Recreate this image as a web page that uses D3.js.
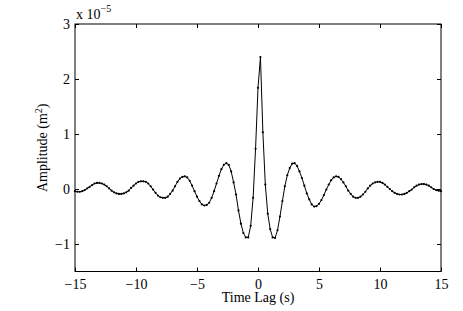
<!DOCTYPE html>
<html>
<head>
<meta charset="utf-8">
<script src="https://cdn.jsdelivr.net/npm/d3@7"></script>
<style>
  body { margin: 0; background: #fff; }
  svg text { font-family: "Liberation Serif", "Times New Roman", serif; fill: #000; }
</style>
</head>
<body>
<svg id="chart" width="463" height="311"></svg>
<script>
// Lag times (s), sampled every 0.2 s
const lags = d3.range(-15, 15.0001, 0.2).map((t) => +t.toFixed(1));

// Amplitude in units of 1e-5 m^2
const amplitude = [
  -0.04, -0.05, -0.05, -0.04, -0.02, 0.01, 0.04, 0.07, 0.10, 0.11,
  0.11, 0.10, 0.08, 0.05, 0.01, -0.03, -0.06, -0.08, -0.09, -0.09,
  -0.08, -0.06, -0.03, 0.02, 0.06, 0.10, 0.13, 0.14, 0.14, 0.13,
  0.10, 0.05, -0.01, -0.07, -0.12, -0.15, -0.16, -0.16, -0.14, -0.09,
  -0.03, 0.05, 0.13, 0.19, 0.22, 0.23, 0.21, 0.15, 0.06, -0.04,
  -0.14, -0.22, -0.28, -0.30, -0.29, -0.25, -0.16, -0.04, 0.10, 0.24,
  0.36, 0.44, 0.47, 0.44, 0.32, 0.12, -0.10, -0.39, -0.63, -0.80,
  -0.88, -0.88, -0.67, -0.16, 0.73, 1.84, 2.40, 1.03, 0.08, -0.45,
  -0.73, -0.88, -0.89, -0.75, -0.50, -0.22, 0.05, 0.25, 0.38, 0.46,
  0.47, 0.42, 0.32, 0.20, 0.06, -0.08, -0.19, -0.28, -0.32, -0.31,
  -0.27, -0.20, -0.11, -0.01, 0.08, 0.16, 0.21, 0.23, 0.22, 0.18,
  0.12, 0.05, -0.03, -0.09, -0.14, -0.16, -0.16, -0.14, -0.10, -0.05,
  0.01, 0.06, 0.10, 0.12, 0.13, 0.13, 0.11, 0.08, 0.04, 0.00,
  -0.04, -0.07, -0.09, -0.10, -0.10, -0.09, -0.07, -0.04, -0.01, 0.03,
  0.06, 0.08, 0.09, 0.09, 0.08, 0.06, 0.03, 0.00, -0.02, -0.03,
  -0.04
];

const xTicks = [-15, -10, -5, 0, 5, 10, 15];
const yTicks = [-1, 0, 1, 2, 3];

const data = lags.map((t, i) => ({ t: t, v: amplitude[i] }));

const svg = d3.select("#chart");
const plotLeft = 75, plotRight = 441, plotTop = 24, plotBottom = 271.5;

const x = d3.scaleLinear().domain([-15, 15]).range([plotLeft, plotRight]);
const y = d3.scaleLinear().domain([-1.5, 3]).range([plotBottom, plotTop]);

const fmt = (d) => (d < 0 ? "\u2212" + Math.abs(d) : String(d));

// Axes with inward ticks on all four sides
const gx = svg.append("g")
  .attr("transform", `translate(0,${plotBottom})`)
  .call(d3.axisBottom(x).tickValues(xTicks).tickSizeInner(-4).tickSizeOuter(0).tickPadding(8).tickFormat(fmt));
const gxTop = svg.append("g")
  .attr("transform", `translate(0,${plotTop})`)
  .call(d3.axisTop(x).tickValues(xTicks).tickSizeInner(-4).tickSizeOuter(0).tickFormat(""));
const gy = svg.append("g")
  .attr("transform", `translate(${plotLeft},0)`)
  .call(d3.axisLeft(y).tickValues(yTicks).tickSizeInner(-4).tickSizeOuter(0).tickPadding(5).tickFormat(fmt));
const gyRight = svg.append("g")
  .attr("transform", `translate(${plotRight},0)`)
  .call(d3.axisRight(y).tickValues(yTicks).tickSizeInner(-4).tickSizeOuter(0).tickFormat(""));

[gx, gxTop, gy, gyRight].forEach((g) => {
  g.select(".domain").remove();
  g.selectAll("line").attr("stroke", "#000");
  g.selectAll("text")
    .style("font-family", '"Liberation Serif", "Times New Roman", serif')
    .style("font-size", "14px")
    .attr("fill", "#000");
});

// Box
svg.append("rect")
  .attr("x", plotLeft)
  .attr("y", plotTop)
  .attr("width", plotRight - plotLeft)
  .attr("height", plotBottom - plotTop)
  .attr("fill", "none")
  .attr("stroke", "#000")
  .attr("stroke-width", 1);

// Series line + dot markers
const line = d3.line().x((d) => x(d.t)).y((d) => y(d.v));
svg.append("path")
  .datum(data)
  .attr("fill", "none")
  .attr("stroke", "#000")
  .attr("stroke-width", 1)
  .attr("d", line);

svg.append("g")
  .selectAll("circle")
  .data(data)
  .join("circle")
  .attr("cx", (d) => x(d.t))
  .attr("cy", (d) => y(d.v))
  .attr("r", 1.1)
  .attr("fill", "#000");

// Exponent note
const expo = svg.append("text")
  .attr("x", plotLeft + 1)
  .attr("y", 19)
  .style("font-size", "14px");
expo.append("tspan").text("x 10");
expo.append("tspan").attr("dy", -7).style("font-size", "10px").text("\u22125");

// Axis titles
svg.append("text")
  .attr("x", (plotLeft + plotRight) / 2)
  .attr("y", 302)
  .attr("text-anchor", "middle")
  .style("font-size", "14px")
  .text("Time Lag (s)");

const ylab = svg.append("text")
  .attr("transform", `translate(47,${(plotTop + plotBottom) / 2}) rotate(-90)`)
  .attr("text-anchor", "middle")
  .style("font-size", "14px");
ylab.append("tspan").text("Amplitude (m");
ylab.append("tspan").attr("dy", -5).style("font-size", "10px").text("2");
ylab.append("tspan").attr("dy", 5).text(")");
</script>
</body>
</html>
